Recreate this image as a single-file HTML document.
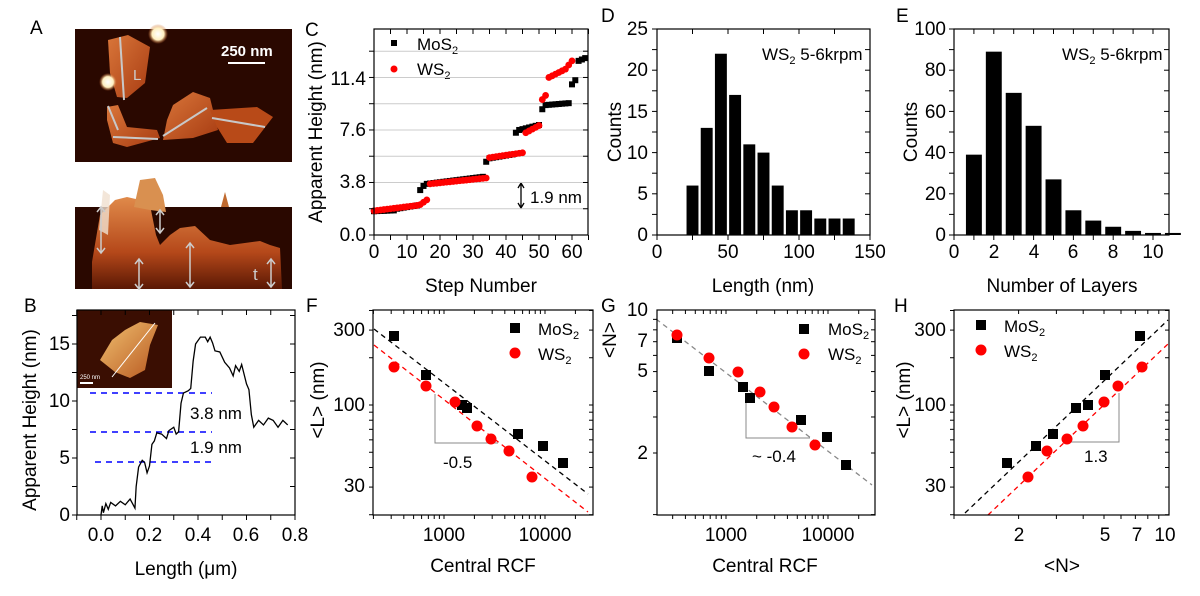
<!DOCTYPE html>
<html><head><meta charset="utf-8"><style>
html,body{margin:0;padding:0;background:#fff;}
svg{display:block;font-family:"Liberation Sans",Arial,sans-serif;}
.t{font-size:19px;fill:#000}
.lg{font-size:17px;fill:#000}
.s{font-size:11px}
</style></head><body>
<svg id="sv" width="1200" height="596" viewBox="0 0 1200 596" xmlns="http://www.w3.org/2000/svg">
<defs>
<linearGradient id="fl" x1="0" y1="0" x2="1" y2="1"><stop offset="0" stop-color="#d9763a"/><stop offset="1" stop-color="#a83c12"/></linearGradient>
<linearGradient id="md" x1="0" y1="0" x2="0" y2="1"><stop offset="0" stop-color="#e08a4a"/><stop offset="0.6" stop-color="#b5481a"/><stop offset="1" stop-color="#5a1804"/></linearGradient>
<radialGradient id="bl"><stop offset="0" stop-color="#fff"/><stop offset="0.6" stop-color="#fff0c0"/><stop offset="1" stop-color="#c86020" stop-opacity="0"/></radialGradient>
<linearGradient id="ins" x1="0" y1="0" x2="1" y2="1"><stop offset="0" stop-color="#f0c070"/><stop offset="1" stop-color="#b85820"/></linearGradient>
</defs>
<!-- Panel A -->
<text x="30" y="34" class="t">A</text>
<rect x="75" y="29" width="217" height="133" fill="#2a0800"/>
<polygon points="108,40 128,35 150,47 145,83 127,98 117,97 110,73" fill="url(#fl)"/>
<polygon points="107,107 118,105 127,127 157,130 160,138 127,147 113,143 107,120" fill="url(#fl)"/>
<polygon points="173,105 193,92 210,98 218,130 193,138 163,140 167,120" fill="url(#fl)"/>
<polygon points="210,110 257,107 273,117 253,143 227,143 217,127" fill="#b84a18"/>
<circle cx="158" cy="34" r="10" fill="url(#bl)"/><circle cx="108" cy="82" r="9" fill="url(#bl)"/>
<g stroke="#c8c8c8" stroke-width="2">
<line x1="120" y1="37" x2="124" y2="100"/><line x1="108" y1="106" x2="118" y2="130"/><line x1="113" y1="137" x2="158" y2="139"/><line x1="163" y1="136" x2="207" y2="108"/><line x1="212" y1="118" x2="265" y2="127"/>
<line x1="228" y1="63" x2="265" y2="63" stroke="#fff"/></g>
<text x="133" y="80" font-size="15" fill="#ccc">L</text>
<text x="221" y="56" font-size="15" font-weight="bold" fill="#fff">250 nm</text>
<rect x="75" y="207" width="217" height="82" fill="#2a0800"/>
<polygon points="92,289 92,262 100,215 115,200 127,197 140,200 150,205 156,235 160,245 170,235 180,228 195,226 210,240 230,245 260,241 270,245 280,248 282,289" fill="url(#md)"/>
<polygon points="134,207 140,180 155,178 163,195 166,212 150,210" fill="#d99050"/>
<polygon points="99,230 103,190 110,195 108,235" fill="#f0e0d0" opacity="0.8"/>
<polygon points="221,207 225,192 229,207" fill="#c06a30"/>
<g stroke="#ccc" stroke-width="1.5" fill="none">
<path d="M160,211 V232 M156,215 L160,210 L164,215 M156,228 L160,233 L164,228"/>
<path d="M101,208 V252 M97,212 L101,207 L105,212 M97,248 L101,253 L105,248"/>
<path d="M139,260 V288 M135,264 L139,259 L143,264 M135,284 L139,289 L143,284"/>
<path d="M190,244 V286 M186,248 L190,243 L194,248 M186,282 L190,287 L194,282"/>
<path d="M271,260 V286 M267,264 L271,259 L275,264 M267,282 L271,287 L275,282"/>
</g>
<text x="253" y="280" font-size="17" fill="#ccc">t</text>

<!-- Panel C -->
<text x="305" y="36" class="t">C</text>
<text class="t" transform="translate(322,132) rotate(-90)" text-anchor="middle">Apparent Height (nm)</text>
<g class="t" text-anchor="end"><text x="366" y="241">0.0</text><text x="366" y="188">3.8</text><text x="366" y="136">7.6</text><text x="366" y="85">11.4</text></g>
<g class="t" text-anchor="middle"><text x="374" y="258">0</text><text x="407" y="258">10</text><text x="440" y="258">20</text><text x="473" y="258">30</text><text x="506" y="258">40</text><text x="539" y="258">50</text><text x="572" y="258">60</text>
<text x="481" y="292">Step Number</text></g>
<text x="417" y="50" class="lg">MoS<tspan class="s" dy="4">2</tspan></text>
<text x="417" y="75" class="lg">WS<tspan class="s" dy="4">2</tspan></text>
<text x="530" y="203" class="lg">1.9 nm</text>
<path d="M521,184 V207 M518,188 L521,183 L524,188 M518,203 L521,208 L524,203" stroke="#000" stroke-width="1.3" fill="none"/>

<!-- Panel D -->
<text x="601" y="22" class="t">D</text>
<text class="t" transform="translate(621,132) rotate(-90)" text-anchor="middle">Counts</text>
<g class="t" text-anchor="end"><text x="648" y="241">0</text><text x="648" y="200">5</text><text x="648" y="159">10</text><text x="648" y="118">15</text><text x="648" y="76">20</text><text x="648" y="35">25</text></g>
<g class="t" text-anchor="middle"><text x="657" y="258">0</text><text x="728" y="258">50</text><text x="799" y="258">100</text><text x="870" y="258">150</text><text x="763" y="292">Length (nm)</text></g>
<text x="762" y="60" class="lg">WS<tspan class="s" dy="4">2</tspan><tspan dy="-4"> 5-6krpm</tspan></text>

<!-- Panel E -->
<text x="896" y="22" class="t">E</text>
<text class="t" transform="translate(917,132) rotate(-90)" text-anchor="middle">Counts</text>
<g class="t" text-anchor="end"><text x="946" y="241">0</text><text x="946" y="200">20</text><text x="946" y="159">40</text><text x="946" y="118">60</text><text x="946" y="76">80</text><text x="946" y="35">100</text></g>
<g class="t" text-anchor="middle"><text x="954" y="258">0</text><text x="994" y="258">2</text><text x="1034" y="258">4</text><text x="1073" y="258">6</text><text x="1113" y="258">8</text><text x="1153" y="258">10</text><text x="1062" y="292">Number of Layers</text></g>
<text x="1062" y="60" class="lg">WS<tspan class="s" dy="4">2</tspan><tspan dy="-4"> 5-6krpm</tspan></text>

<!-- Panel B -->
<text x="24" y="312" class="t">B</text>
<text class="t" transform="translate(36,420) rotate(-90)" text-anchor="middle">Apparent Height (nm)</text>
<g class="t" text-anchor="end"><text x="70" y="521">0</text><text x="70" y="464">5</text><text x="70" y="407">10</text><text x="70" y="350">15</text></g>
<g class="t" text-anchor="middle"><text x="101" y="541">0.0</text><text x="149" y="541">0.2</text><text x="198" y="541">0.4</text><text x="246" y="541">0.6</text><text x="295" y="541">0.8</text><text x="186" y="575">Length (μm)</text></g>
<rect x="77" y="310" width="95" height="78" fill="#3a0e02"/>
<polygon points="100,360 112,340 125,330 140,322 158,325 150,345 145,370 130,378 115,372" fill="url(#ins)"/>
<line x1="112" y1="377" x2="155" y2="323" stroke="#fff" stroke-width="1"/>
<line x1="80" y1="383" x2="93" y2="383" stroke="#fff" stroke-width="2"/>
<text x="80" y="379" font-size="6" fill="#fff">250 nm</text>
<g stroke="#00f" stroke-width="1.5" stroke-dasharray="6,5"><line x1="90" y1="393" x2="212" y2="393"/><line x1="90" y1="432" x2="212" y2="432"/><line x1="95" y1="462" x2="212" y2="462"/></g>
<text x="190" y="419" class="lg">3.8 nm</text><text x="190" y="453" class="lg">1.9 nm</text>

<!-- Panel F -->
<text x="306" y="312" class="t">F</text>
<text class="t" transform="translate(324,400) rotate(-90)" text-anchor="middle">&lt;L&gt; (nm)</text>
<g class="t" text-anchor="end"><text x="365" y="336">300</text><text x="365" y="411">100</text><text x="365" y="492">30</text></g>
<g class="t" text-anchor="middle"><text x="444" y="541">1000</text><text x="545" y="541">10000</text><text x="483" y="572">Central RCF</text></g>
<text x="538" y="335" class="lg">MoS<tspan class="s" dy="4">2</tspan></text>
<text x="538" y="360" class="lg">WS<tspan class="s" dy="4">2</tspan></text>
<path d="M435,394 V443 H498" stroke="#888" fill="none"/>
<text x="443" y="468" class="lg">-0.5</text>

<!-- Panel G -->
<text x="601" y="312" class="t">G</text>
<text class="t" transform="translate(616,340) rotate(-90)" text-anchor="middle">&lt;N&gt;</text>
<g class="t" text-anchor="end"><text x="648" y="316">10</text><text x="648" y="347">7</text><text x="648" y="377">5</text><text x="648" y="459">2</text></g>
<g class="t" text-anchor="middle"><text x="726" y="541">1000</text><text x="828" y="541">10000</text><text x="765" y="572">Central RCF</text></g>
<text x="828" y="335" class="lg">MoS<tspan class="s" dy="4">2</tspan></text>
<text x="828" y="360" class="lg">WS<tspan class="s" dy="4">2</tspan></text>
<path d="M746,397 V438 H810" stroke="#888" fill="none"/>
<text x="752" y="462" class="lg">~ -0.4</text>

<!-- Panel H -->
<text x="894" y="312" class="t">H</text>
<text class="t" transform="translate(910,400) rotate(-90)" text-anchor="middle">&lt;L&gt; (nm)</text>
<g class="t" text-anchor="end"><text x="946" y="336">300</text><text x="946" y="411">100</text><text x="946" y="492">30</text></g>
<g class="t" text-anchor="middle"><text x="1019" y="541">2</text><text x="1105" y="541">5</text><text x="1137" y="541">7</text><text x="1165" y="541">10</text><text x="1062" y="572">&lt;N&gt;</text></g>
<text x="1004" y="332" class="lg">MoS<tspan class="s" dy="4">2</tspan></text>
<text x="1004" y="357" class="lg">WS<tspan class="s" dy="4">2</tspan></text>
<path d="M1067,442 H1119 V393" stroke="#888" fill="none"/>
<text x="1084" y="462" class="lg">1.3</text>
</svg>
<script>
var S=document.getElementById('sv'),NS='http://www.w3.org/2000/svg';
function el(t,a){var e=document.createElementNS(NS,t);for(var k in a)e.setAttribute(k,a[k]);S.appendChild(e);return e;}
function sq(x,y,r){el('rect',{x:x-r,y:y-r,width:2*r,height:2*r,fill:'#000'});}
function dot(x,y,r){el('circle',{cx:x,cy:y,r:r,fill:'#f00'});}
function box(l,r,t,b){el('rect',{x:l,y:t,width:r-l,height:b-t,fill:'none',stroke:'#000','stroke-width':1.2});}
function xt(l,t,b,xs,len){xs.forEach(function(x){el('line',{x1:x,x2:x,y1:b,y2:b+len,stroke:'#000'});el('line',{x1:x,x2:x,y1:t,y2:t+len,stroke:'#000'});});}
function yt(l,r,ys,len){ys.forEach(function(y){el('line',{x1:l-len,x2:l,y1:y,y2:y,stroke:'#000'});el('line',{x1:r,x2:r-len,y1:y,y2:y,stroke:'#000'});});}
function rng(a,b,s){var o=[];for(var v=a;v<=b+1e-9;v+=s)o.push(v);return o;}
function lgt(d0,d1,f){var o=[];for(var d=d0;d<=d1;d++)for(var m=1;m<10;m++)o.push(f(m*Math.pow(10,d)));return o;}
// C
var cx=function(v){return 374+v*3.3},cy=function(v){return 235-v*13.82};
rng(1,7,1).forEach(function(k){el('line',{x1:374,x2:588,y1:cy(k*1.9),y2:cy(k*1.9),stroke:'#ccc'});});
var mo=[],ws=[];
for(var i=0;i<=64;i++){var v;
 if(i<7)v=1.72+i*0.01;else if(i<14)v=1.9+(i-7)*0.04;else if(i==14)v=3.25;else if(i==15)v=3.55;else if(i<34)v=3.7+(i-16)*0.03;else if(i==34)v=5.3;else if(i<43)v=5.55+(i-35)*0.04;else if(i==43)v=7.4;else if(i<51)v=7.6+(i-44)*0.06;else if(i==51)v=9.1;else if(i<60)v=9.4+(i-52)*0.02;else if(i<62)v=10.9+(i-60)*0.3;else v=12.6+(i-62)*0.1;
 mo.push(v);}
for(var i=0;i<=60;i++){var v;
 if(i<14)v=1.75+i*0.03;else if(i<17)v=2.2+(i-14)*0.17;else if(i<35)v=3.7+(i-17)*0.025;else if(i<46)v=5.6+(i-35)*0.035;else if(i<51)v=7.4+(i-46)*0.13;else if(i<53)v=9.8+(i-51)*0.3;else if(i<58)v=11.4+(i-53)*0.12;else v=12.0+(i-58)*0.3;
 ws.push(v);}
mo.forEach(function(v,i){sq(cx(i),cy(v),3);});
ws.forEach(function(v,i){dot(cx(i),cy(v),3.4);});
sq(394,43,3);dot(394,69,3.5);
box(374,588,29,235);xt(374,29,235,rng(0,65,5).map(cx),5);yt(374,588,rng(0,15,1.9).map(cy),5);
// D
var dx=function(v){return 657+v*1.42},dy=function(v){return 235-v*8.24};
[6,13,22,17,11,10,6,3,3,2,2,2].forEach(function(c,i){var a=20+i*10;el('rect',{x:dx(a+0.8),y:dy(c),width:8.4*1.42,height:c*8.24,fill:'#000'});});
box(657,870,29,235);xt(657,29,235,rng(0,150,25).map(dx),5);yt(657,870,rng(0,25,2.5).map(dy),5);
// E
var ex=function(v){return 954+v*19.9},ey=function(v){return 235-v*2.06};
[39,89,69,53,27,12,7,4,2,1,1].forEach(function(c,i){var a=i+1;el('rect',{x:ex(a-0.4),y:ey(c),width:0.8*19.9,height:c*2.06,fill:'#000'});});
box(954,1169,29,235);xt(954,29,235,rng(0,10,1).map(ex),5);yt(954,1169,rng(0,100,10).map(ey),5);
// B
var bx=function(v){return 101+v*242.5},by=function(v){return 515-v*11.4};
var pr=[[0,0],[0.005,0.8],[0.01,0.2],[0.02,1],[0.03,0.5],[0.04,1.1],[0.06,0.8],[0.08,1.2],[0.1,0.9],[0.12,1.4],[0.13,1.0],[0.14,0.6],[0.145,2.5],[0.155,4.2],[0.17,4.8],[0.18,4.6],[0.19,3.7],[0.2,4.3],[0.21,6.2],[0.22,6.5],[0.23,7.2],[0.25,7.1],[0.27,6.7],[0.28,7.4],[0.3,7.7],[0.31,7.1],[0.32,7.3],[0.33,9.8],[0.34,10.7],[0.36,10.9],[0.37,11.1],[0.38,13.5],[0.39,15],[0.41,15.6],[0.43,15.6],[0.44,15.2],[0.45,15.6],[0.46,15.1],[0.47,14.4],[0.49,14.3],[0.51,13.4],[0.53,12.9],[0.545,12.2],[0.555,13.1],[0.57,12.6],[0.58,13.2],[0.6,11.5],[0.61,11],[0.62,8.8],[0.63,7.7],[0.65,8.3],[0.67,7.9],[0.69,8.5],[0.71,8.3],[0.73,7.7],[0.75,8.3],[0.77,7.9]];
el('polyline',{points:pr.map(function(p){return bx(p[0])+','+by(p[1])}).join(' '),fill:'none',stroke:'#000','stroke-width':1.3});
box(77,295,310,515);xt(77,310,515,rng(-0.1,0.8,0.1).map(bx),5);yt(77,295,rng(0,17.5,2.5).map(by),5);
// F
var fx=function(v){return 444+(Math.log10(v)-3)*101},fy=function(v){return 405-(Math.log10(v)-2)*157};
el('line',{x1:374,y1:329,x2:588,y2:494,stroke:'#000','stroke-dasharray':'5,4','stroke-width':1.3});
el('line',{x1:374,y1:345,x2:588,y2:512,stroke:'#f00','stroke-dasharray':'5,4','stroke-width':1.3});
[[394,336],[426,375],[462,405],[467,408],[518,434],[543,446],[563,463]].forEach(function(p){sq(p[0],p[1],5);});
[[394,367],[426,386],[455,402],[477,426],[491,439],[509,451],[532,477]].forEach(function(p){dot(p[0],p[1],5.5);});
sq(515,328,5);dot(515,353,5.5);
box(373,593,310,515);xt(373,310,515,lgt(2,4,fx).filter(function(x){return x>=373&&x<=593}),4);yt(373,593,lgt(1,2,fy).filter(function(y){return y>=310&&y<=515}),4);
// G
var gx=function(v){return 726+(Math.log10(v)-3)*102},gy=function(v){return 310-(Math.log10(v)-1)*204.6};
el('line',{x1:656,y1:319,x2:872,y2:485,stroke:'#888','stroke-dasharray':'5,4','stroke-width':1.3});
[[677,338],[709,371],[743,387],[750,398],[801,420],[827,437],[846,465]].forEach(function(p){sq(p[0],p[1],5);});
[[677,335],[709,358],[738,372],[760,392],[774,407],[792,427],[815,445]].forEach(function(p){dot(p[0],p[1],5.5);});
sq(804,329,5);dot(804,354,5.5);
box(657,875,310,515);xt(657,310,515,lgt(2,4,gx).filter(function(x){return x>=657&&x<=875}),4);yt(657,875,lgt(0,0,gy),4);
// H
var hx=function(v){return 954+Math.log10(v)*214.6};
el('line',{x1:965,y1:513,x2:1168,y2:320,stroke:'#000','stroke-dasharray':'5,4','stroke-width':1.3});
el('line',{x1:988,y1:515,x2:1169,y2:343,stroke:'#f00','stroke-dasharray':'5,4','stroke-width':1.3});
[[1007,463],[1036,446],[1053,434],[1076,408],[1088,405],[1105,375],[1140,336]].forEach(function(p){sq(p[0],p[1],5);});
[[1028,477],[1047,451],[1067,439],[1083,426],[1104,402],[1118,386],[1142,367]].forEach(function(p){dot(p[0],p[1],5.5);});
sq(981,325,5);dot(981,350,5.5);
box(954,1169,310,515);xt(954,310,515,lgt(0,0,hx),4);yt(954,1169,lgt(1,2,fy).filter(function(y){return y>=310&&y<=515}),4);
</script>
</body></html>
